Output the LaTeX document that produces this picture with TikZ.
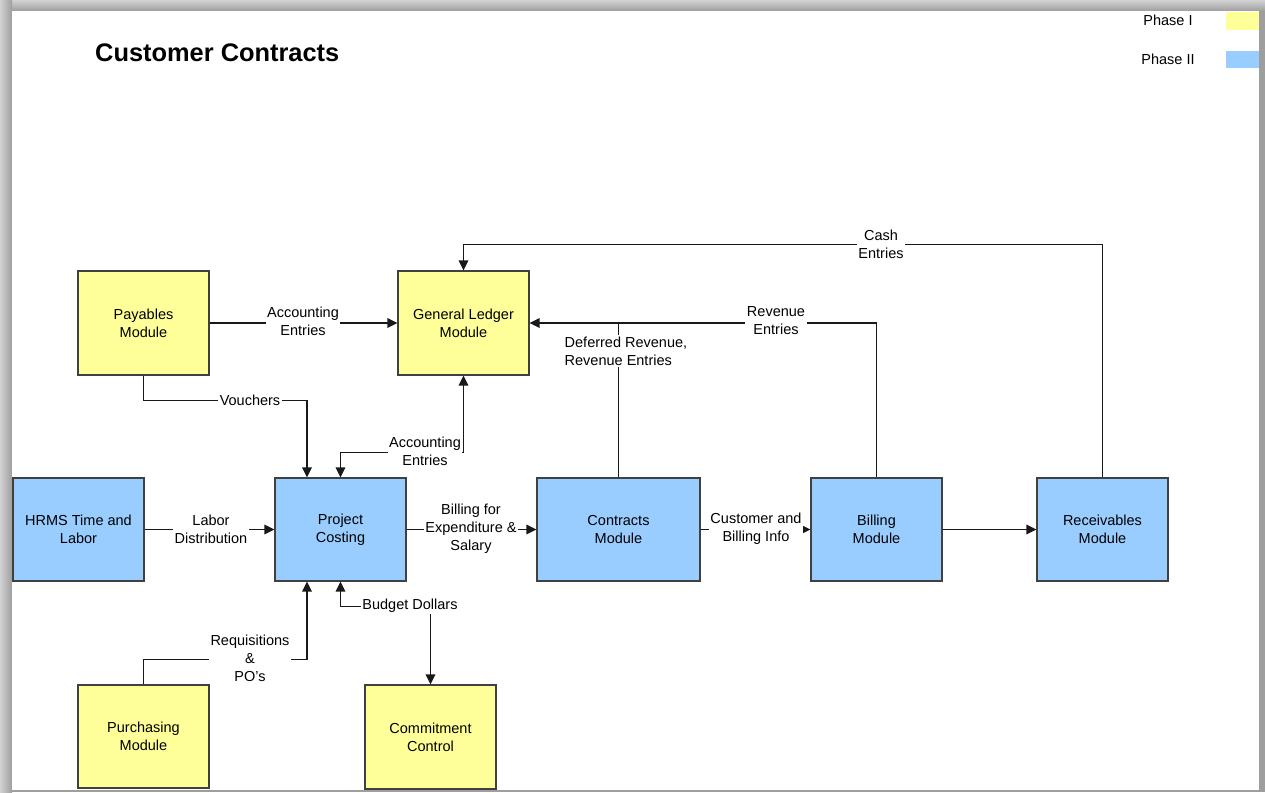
\documentclass[tikz,border=0pt]{standalone}
\usepackage{fontspec}
\setmainfont{Liberation Sans}
\usetikzlibrary{arrows.meta}
\definecolor{phaseone}{HTML}{FFFF99}
\definecolor{phasetwo}{HTML}{99CCFF}
\definecolor{boxline}{HTML}{404040}
\definecolor{shadow}{HTML}{9E9E9E}
\definecolor{shadowlight}{HTML}{D2D2D2}
\tikzset{
  modbox/.style={draw=boxline, line width=1.1pt, minimum width=131pt, minimum height=104pt,
    inner sep=0pt, align=center, font=\fontsize{14.5}{18}\selectfont},
  yel/.style={modbox, fill=phaseone},
  blu/.style={modbox, fill=phasetwo},
  lbl/.style={fill=white, inner sep=1.5pt, align=center, font=\fontsize{14.5}{18}\selectfont},
  conn/.style={draw=black!90, line width=1.2pt},
  arr/.style={conn, -{Triangle[length=10pt,width=9.5pt]}},
  arrboth/.style={conn, {Triangle[length=10pt,width=9.5pt]}-{Triangle[length=10pt,width=9.5pt]}},
}
\begin{document}
\begin{tikzpicture}[x=1pt,y=-1pt]
\useasboundingbox (0,0) rectangle (1265,792);
% page frame with shadow
\fill[shadow] (0,0) rectangle (1265,792);
\shade[top color=shadowlight, bottom color=shadow] (0,0) rectangle (1265,11);
\shade[left color=shadowlight, right color=shadow] (0,0) rectangle (12,792);
\fill[white] (12,11) rectangle (1259,790);

% title and legend
\node[anchor=west, inner sep=0pt, font=\fontsize{25.4}{30}\selectfont\bfseries] (title) at (95,53) {Customer Contracts};
\node[inner sep=0pt, font=\fontsize{14.5}{18}\selectfont] (ph1) at (1168,20) {Phase I};
\node[inner sep=0pt, font=\fontsize{14.5}{18}\selectfont] (ph2) at (1168,59) {Phase II};
\fill[phaseone] (1226,12) rectangle (1259,30);
\fill[phasetwo] (1226,51) rectangle (1259,68);

% modules
\node[yel] (pay) at (143.5,323) {Payables\\Module};
\node[yel] (gl) at (463.5,323) {General Ledger\\Module};
\node[blu, minimum height=103pt] (hr) at (78.5,529.5) {HRMS Time and\\Labor};
\node[blu, minimum height=103pt] (pc) at (340.5,529.5) {Project\\Costing};
\node[blu, minimum height=103pt, minimum width=163pt] (con) at (618.5,529.5) {Contracts\\Module};
\node[blu, minimum height=103pt] (bil) at (876.5,529.5) {Billing\\Module};
\node[blu, minimum height=103pt] (rec) at (1102.5,529.5) {Receivables\\Module};
\node[yel, minimum height=103pt] (pur) at (143.5,736.5) {Purchasing\\Module};
\node[yel, minimum height=104pt] (cc) at (430.5,737) {Commitment\\Control};

% connectors
\draw[arr] (pay.east) -- (gl.west);
\node[lbl] (l1) at (303,321) {Accounting\\Entries};

\draw[arr] (pay.south) -- ++(0,25) -| ([xshift=-33.5pt]pc.north);
\node[lbl] (l2) at (250,400) {Vouchers};

\draw[arrboth] (pc.north) -- ++(0,-25) -| (gl.south);
\node[lbl] (l3) at (425,451) {Accounting\\Entries};

\draw[arr] (con.north) |- (gl.east);
\node[lbl, align=left, anchor=west] (l4) at (563,351) {Deferred Revenue,\\Revenue Entries};

\draw[conn] (bil.north) |- (con.north |- gl.east);
\node[lbl] (l5) at (776,321) {Revenue\\Entries};

\draw[arr] (rec.north) -- ++(0,-233) -| (gl.north);
\node[lbl] (l6) at (881,244) {Cash\\Entries};

\draw[arr] (hr.east) -- (pc.west);
\node[lbl] (l7) at (211,529) {Labor\\Distribution};

\draw[arr] (pc.east) -- (con.west);
\node[lbl] (l8) at (471,529) {Billing for\\Expenditure \&\\Salary};

\draw[arr] (con.east) -- (bil.west);
\node[lbl] (l9) at (756,529) {Customer and\\Billing Info};

\draw[arr] (bil.east) -- (rec.west);

\draw[arr] (pur.north) -- ++(0,-25) -| ([xshift=-33.5pt]pc.south);
\node[lbl] (l10) at (250,658) {Requisitions\\\&\\PO's};

\draw[arrboth] (pc.south) -- ++(0,25) -| (cc.north);
\node[lbl] (l11) at (410,606) {Budget Dollars};
\end{tikzpicture}
\end{document}
